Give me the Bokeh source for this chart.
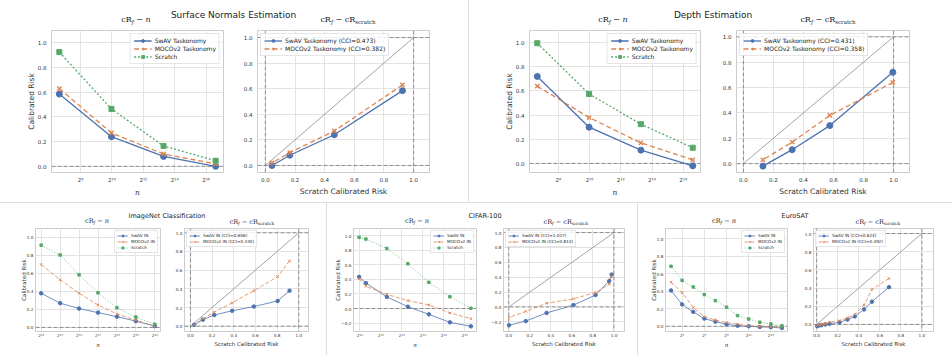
import math
from bokeh.plotting import figure
from bokeh.models import (Range1d, FixedTicker, CustomJSTickFormatter, Span, Legend,
                          LegendItem, Div, ColumnDataSource)
from bokeh.layouts import row, column
from bokeh.embed import file_html
from bokeh.resources import INLINE

# ---------------- data ----------------
sn_n = [100, 1000, 10000, 100000]
sn_swav = [0.585, 0.24, 0.08, 0.0]
sn_moco = [0.63, 0.27, 0.10, 0.02]
sn_scratch = [0.925, 0.465, 0.165, 0.045]
sn_cci = [0.473, 0.382]

de_n = [100, 1000, 10000, 100000]
de_swav = [0.72, 0.30, 0.11, -0.02]
de_moco = [0.64, 0.38, 0.17, 0.03]
de_scratch = [0.995, 0.575, 0.325, 0.13]
de_cci = [0.431, 0.358]

in_n = [16384, 32768, 65536, 131072, 262144, 524288, 1048576]
in_swav = [0.38, 0.27, 0.21, 0.165, 0.12, 0.07, 0.015]
in_moco = [0.70, 0.53, 0.38, 0.25, 0.15, 0.08, 0.015]
in_scratch = [0.915, 0.805, 0.585, 0.385, 0.22, 0.115, 0.035]
in_cci = [0.606, 0.330]

cf_n = [1000, 1250, 2500, 5000, 10000, 20000, 40000]
cf_swav = [0.435, 0.35, 0.16, 0.025, -0.08, -0.19, -0.245]
cf_moco = [0.41, 0.305, 0.195, 0.108, 0.05, -0.06, -0.14]
cf_scratch = [0.978, 0.955, 0.825, 0.615, 0.36, 0.162, 0.003]
cf_cci = [1.027, 0.813]

es_n = [16, 32, 64, 128, 256, 512, 1024, 2048, 4096, 8192, 16384]
es_swav = [0.41, 0.25, 0.165, 0.088, 0.053, 0.023, 0.006, 0.0, -0.008, -0.01, -0.02]
es_moco = [0.505, 0.385, 0.215, 0.11, 0.072, 0.042, 0.025, 0.006, -0.002, -0.006, -0.012]
es_scratch = [0.687, 0.525, 0.45, 0.363, 0.293, 0.218, 0.122, 0.083, 0.046, 0.027, 0.005]
es_cci = [0.624, 0.492]

# tick labels (exponents of 2 for n axes, values for risk axes)
sn_xexp = [8, 10, 12, 14, 16]
de_xexp = [8, 10, 12, 14, 16]
in_xexp = [14, 15, 16, 17, 18, 19, 20]
cf_xexp = [10, 11, 12, 13, 14, 15]
es_xexp = [5, 7, 9, 11, 13]
risk_ticks = [0.0, 0.2, 0.4, 0.6, 0.8, 1.0]
risk_ticks_neg = [-0.2, 0.0, 0.2, 0.4, 0.6, 0.8, 1.0]
identity = [0.0, 1.0]
ref_marks = [0.0, 1.0]

# ---------------- style ----------------
BLUE, ORANGE, GREEN = "#4c72b0", "#dd8452", "#55a868"
GRID, EDGE, REF = "#e3e3e3", "#cccccc", "#8c8c8c"

TOP = dict(tick="5.5px", label="7.5px", legend="6px", ms=6, lw=1.3,
           xtstd=4, ytstd=5, xlstd=2, ylstd=-1,
           gw=18, gh=7, lh=7, pad=3, lm=3, xs=1.4, dash="5 3", dot="2 2")
BOT = dict(tick="4.2px", label="5.5px", legend="4.2px", ms=3.5, lw=0.8,
           xtstd=1, ytstd=2, xlstd=1, ylstd=-3,
           gw=11, gh=5, lh=5, pad=2, lm=2, xs=0.9, dash="4 2", dot="1 2")

SUP_JS = ("const s='\u2070\u00b9\u00b2\u00b3\u2074\u2075\u2076\u2077\u2078\u2079';"
          "const e=Math.round(Math.log2(tick));"
          "return '2'+String(e).split('').map(c=>s[+c]).join('');")
Y_JS = "return tick.toFixed(1).replace('-', '\u2212');"


def base_fig(W, H, bl, br, bt, bb, xr, yr, xlog, S):
    p = figure(width=W, height=H, x_range=xr, y_range=yr,
               x_axis_type=("log" if xlog else "linear"),
               output_backend="svg", toolbar_location=None, title=None,
               min_border_left=bl, min_border_right=br,
               min_border_top=bt, min_border_bottom=bb)
    p.outline_line_color = EDGE
    p.outline_line_width = 1
    p.border_fill_color = "white"
    p.grid.grid_line_color = GRID
    p.grid.grid_line_width = 1
    for ax in p.axis:
        ax.axis_line_color = None
        ax.major_tick_line_color = None
        ax.minor_tick_line_color = None
        ax.major_tick_out = 0
        ax.major_tick_in = 0
        ax.minor_tick_out = 0
        ax.minor_tick_in = 0
        ax.major_label_text_font = "DejaVu Sans"
        ax.major_label_text_font_size = S["tick"]
        ax.major_label_text_color = "#333333"
        ax.axis_label_text_font = "DejaVu Sans"
        ax.axis_label_text_font_size = S["label"]
        ax.axis_label_text_font_style = "normal"
        ax.axis_label_text_color = "#333333"
    p.xaxis.major_label_standoff = S["xtstd"]
    p.yaxis.major_label_standoff = S["ytstd"]
    p.xaxis.axis_label_standoff = S["xlstd"]
    p.yaxis.axis_label_standoff = S["ylstd"]
    return p


def series(p, x, y, color, dash, marker, S):
    src = ColumnDataSource(dict(x=x, y=y))
    r1 = p.line("x", "y", source=src, line_color=color, line_width=S["lw"], line_dash=dash)
    if marker == "x":
        r2 = p.scatter("x", "y", source=src, marker="x", size=S["ms"], line_color=color,
                       line_width=S["xs"])
    else:
        sz = S["ms"] if marker == "circle" else S["ms"] - 1
        r2 = p.scatter("x", "y", source=src, marker=marker, size=sz, fill_color=color,
                       line_color=color)
    return [r1, r2]


def add_legend(p, items, loc, S):
    lg = Legend(items=[LegendItem(label=l, renderers=r) for l, r in items], location=loc)
    lg.label_text_font = "DejaVu Sans"
    lg.label_text_font_size = S["legend"]
    lg.label_text_color = "#222222"
    lg.glyph_width = S["gw"]
    lg.glyph_height = S["gh"]
    lg.label_height = S["lh"]
    lg.label_standoff = 3
    lg.spacing = 1
    lg.padding = S["pad"]
    lg.margin = S["lm"]
    lg.border_line_color = EDGE
    lg.border_line_width = 0.8
    lg.background_fill_alpha = 0.85
    p.add_layout(lg)


def n_plot(W, H, bl, br, bt, bb, n, swav, moco, scratch, xexp, yt, yr, names, S, loc="top_right"):
    l2 = [math.log2(v) for v in n]
    span = max(l2) - min(l2)
    xr = Range1d(2 ** (min(l2) - 0.05 * span), 2 ** (max(l2) + 0.05 * span))
    p = base_fig(W, H, bl, br, bt, bb, xr, Range1d(*yr), True, S)
    ticks = [2 ** e for e in xexp]
    p.xaxis.ticker = FixedTicker(ticks=ticks)
    p.xgrid.ticker = FixedTicker(ticks=ticks)
    p.xaxis.formatter = CustomJSTickFormatter(code=SUP_JS)
    p.yaxis.ticker = FixedTicker(ticks=yt)
    p.ygrid.ticker = FixedTicker(ticks=yt)
    p.yaxis.formatter = CustomJSTickFormatter(code=Y_JS)
    p.xaxis.axis_label = "n"
    p.xaxis.axis_label_text_font = "DejaVu Serif"
    p.xaxis.axis_label_text_font_style = "italic"
    p.yaxis.axis_label = "Calibrated Risk"
    p.add_layout(Span(location=0, dimension="width", line_color=REF, line_dash="4 2",
                      line_width=1, level="underlay"))
    items = [(names[0], series(p, n, swav, BLUE, "solid", "circle", S)),
             (names[1], series(p, n, moco, ORANGE, S["dash"], "x", S)),
             (names[2], series(p, n, scratch, GREEN, S["dot"], "square", S))]
    add_legend(p, items, loc, S)
    return p


def c_plot(W, H, bl, br, bt, bb, scratch, swav, moco, names, ccis, yt, xr, yr, S, loc="top_left"):
    p = base_fig(W, H, bl, br, bt, bb, Range1d(*xr), Range1d(*yr), False, S)
    p.xaxis.ticker = FixedTicker(ticks=risk_ticks)
    p.xgrid.ticker = FixedTicker(ticks=risk_ticks)
    p.yaxis.ticker = FixedTicker(ticks=yt)
    p.ygrid.ticker = FixedTicker(ticks=yt)
    p.xaxis.formatter = CustomJSTickFormatter(code=Y_JS)
    p.yaxis.formatter = CustomJSTickFormatter(code=Y_JS)
    p.xaxis.axis_label = "Scratch Calibrated Risk"
    for m in ref_marks:
        p.add_layout(Span(location=m, dimension="width", line_color=REF, line_dash="4 2",
                          line_width=1, level="underlay"))
        p.add_layout(Span(location=m, dimension="height", line_color=REF, line_dash="4 2",
                          line_width=1, level="underlay"))
    p.line(identity, identity, line_color=REF, line_width=0.8)
    items = [(f"{names[0]} (CCI={ccis[0]:.3f})", series(p, scratch, swav, BLUE, "solid", "circle", S)),
             (f"{names[1]} (CCI={ccis[1]:.3f})", series(p, scratch, moco, ORANGE, S["dash"], "x", S))]
    add_legend(p, items, loc, S)
    return p


def sep(W, H):
    return Div(text="", width=W, height=H, margin=0, styles={"background-color": "#dddddd"})


def strip(W, H, items, vlines):
    parts = [f'<div style="position:relative;width:{W}px;height:{H}px;overflow:visible;">']
    for x, y, html, size, fam in items:
        parts.append(
            f'<span style="position:absolute;left:{x}px;top:{y}px;transform:translate(-50%,-50%);'
            f'white-space:nowrap;font-family:{fam};font-size:{size}px;line-height:1;color:#222;">'
            f'{html}</span>')
    for x in vlines:
        parts.append(f'<div style="position:absolute;left:{x}px;top:0;width:1px;height:{H}px;'
                     f'background:#dddddd;"></div>')
    parts.append('</div>')
    return Div(text="".join(parts), width=W, height=H, margin=0)


SUB = '<span style="font-size:68%;position:relative;top:0.3em;">{}</span>'
T_N = 'cR' + SUB.format('<i>f</i>') + ' &minus; <i>n</i>'
T_C = 'cR' + SUB.format('<i>f</i>') + ' &minus; cR' + SUB.format('scratch')
SANS = "'DejaVu Sans'"
SERIF = "'DejaVu Serif'"

tk_names = ["SwAV Taskonomy", "MOCOv2 Taskonomy", "Scratch"]
in_names = ["SwAV IN", "MOCOv2 IN", "Scratch"]

# ---------------- top row ----------------
figA = n_plot(240, 176, 51, 17, 4, 30, sn_n, sn_swav, sn_moco, sn_scratch, sn_xexp,
              risk_ticks, (-0.05, 1.1), tk_names, TOP)
figB = c_plot(228, 176, 17, 39, 4, 30, sn_scratch, sn_swav, sn_moco, tk_names, sn_cci,
              risk_ticks, (-0.053, 1.107), (-0.055, 1.055), TOP)
figC = n_plot(248, 176, 60, 17, 4, 30, de_n, de_swav, de_moco, de_scratch, de_xexp,
              risk_ticks, (-0.075, 1.1), tk_names, TOP)
figD = c_plot(235, 176, 19, 43, 4, 30, de_scratch, de_swav, de_moco, tk_names, de_cci,
              risk_ticks, (-0.046, 1.106), (-0.07, 1.05), TOP)

top_strip = strip(952, 26, [
    (233.5, 15, "Surface Normals Estimation", 9, SANS),
    (713, 15, "Depth Estimation", 9, SANS),
    (136, 20, T_N, 8, SERIF),
    (348, 20, T_C, 8, SERIF),
    (613, 20, T_N, 8, SERIF),
    (828, 20, T_C, 8, SERIF),
], [468])

top_row = row(figA, figB, sep(1, 176), figC, figD)

# ---------------- bottom row ----------------
figE = n_plot(170, 130, 35, 10, 3, 24, in_n, in_swav, in_moco, in_scratch, in_xexp,
              risk_ticks, (-0.045, 1.1), in_names, BOT)
figF = c_plot(156, 130, 14, 18, 3, 24, in_scratch, in_swav, in_moco, in_names, in_cci,
              risk_ticks, (-0.055, 1.09), (-0.057, 1.046), BOT)
figG = n_plot(159, 130, 26, 10, 3, 24, cf_n, cf_swav, cf_moco, cf_scratch, cf_xexp,
              risk_ticks_neg, (-0.316, 1.1), in_names, BOT)
figH = c_plot(151, 130, 17, 13, 3, 24, cf_scratch, cf_swav, cf_moco, in_names, cf_cci,
              risk_ticks_neg, (-0.05, 1.1), (-0.33, 1.055), BOT)
figI = n_plot(158, 130, 27, 9, 3, 24, es_n, es_swav, es_moco, es_scratch, es_xexp,
              risk_ticks, (-0.06, 1.12), in_names, BOT)
figJ = c_plot(156, 130, 17, 19, 3, 24, es_scratch, es_swav, es_moco, in_names, es_cci,
              risk_ticks, (-0.03, 1.11), (-0.078, 1.055), BOT)

bot_strip = strip(952, 22, [
    (167, 13, "ImageNet Classification", 6.5, SANS),
    (485, 13, "CIFAR-100", 6.5, SANS),
    (795, 13, "EuroSAT", 6.5, SANS),
    (97, 18, T_N, 6.5, SERIF),
    (252, 19, T_C, 6.5, SERIF),
    (417, 18, T_N, 6.5, SERIF),
    (566, 19, T_C, 6.5, SERIF),
    (724, 18, T_N, 6.5, SERIF),
    (878, 19, T_C, 6.5, SERIF),
], [326, 637])

bot_row = row(figE, figF, sep(1, 130), figG, figH, sep(1, 130), figI, figJ)

layout = column(top_strip, top_row, sep(952, 1), bot_strip, bot_row)

open("out.html", "w").write(file_html(layout, INLINE))
